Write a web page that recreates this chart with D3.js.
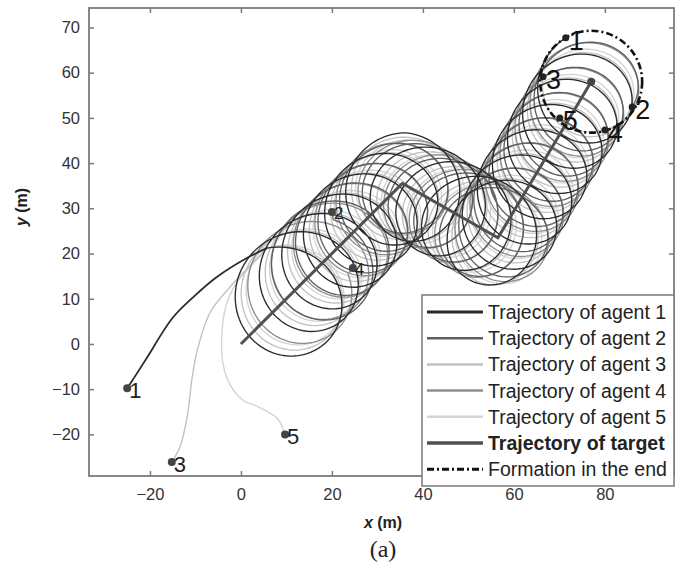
<!DOCTYPE html>
<html>
<head>
<meta charset="utf-8">
<script src="https://cdn.jsdelivr.net/npm/d3@7"></script>
<style>
body{margin:0;background:#fff;}
svg text{font-family:"Liberation Sans",Arial,sans-serif;}
</style>
</head>
<body>
<svg id="chart" width="681" height="570"></svg>
<script>
// target path corners (m)
var targetPts = [[0,0],[35.5,35.5],[56.5,23.5],[77,58]];
// agents: start points, end points (formation), approach curves
var agentStart = [[-25,-9.8],[20,29.2],[-15.2,-26.1],[24.6,16.8],[9.7,-20]];
var agentEnd = [[71.4,67.7],[86,52.4],[66.4,59.1],[80,47.3],[70.1,50]];
var approach = [
	[[-25,-9.8],[-23.5,-7.5],[-20.7,-3.1],[-15,5.8],[-10,10.8],[-5.3,14.8],[1.3,19],[5.7,21.2]],
	[[20,29.2],[20.3,27.5]],
	[[-15.2,-26.1],[-13.4,-22.8],[-11.8,-16],[-10.8,-8],[-9.7,-1.8],[-6.8,6.9],[-2.4,12.6],[2.6,17.9],[5.7,21.2]],
	[[24.6,16.8],[23.5,15.5]],
	[[9.7,-20],[8,-16.5],[4,-14],[0.4,-12.4],[-2.4,-9],[-4,-4],[-4.2,2],[-3.4,8],[-1,13.5],[3.5,18.6],[5.7,21.2]]
];
var joinAt = [11,22,12,16,13];      // target travel (m) when the agent starts circling
var orbitRadius = 11.2;
var loopSpacing = 6.5;           // target travel per revolution
var agentColors = ["#2b2b2b","#606060","#c2c2c2","#8e8e8e","#d4d4d4"];
var legendLabels = ["Trajectory of agent 1","Trajectory of agent 2","Trajectory of agent 3",
	"Trajectory of agent 4","Trajectory of agent 5","Trajectory of target","Formation in the end"];
var xTicks = [-20,0,20,40,60,80];
var yTicks = [-20,-10,0,10,20,30,40,50,60,70];

var svg = d3.select("#chart");
var L = 89, R = 674, T = 8, B = 476;
var x = d3.scaleLinear().domain([-33.4,95.2]).range([L,R]);
var y = d3.scaleLinear().domain([-29.2,74.3]).range([B,T]);

svg.append("clipPath").attr("id","clip").append("rect")
	.attr("x",L).attr("y",T).attr("width",R-L).attr("height",B-T);

// target position after travelling s metres
var segLen = [], total = 0;
for(var i=1;i<targetPts.length;i++){
	var d = Math.hypot(targetPts[i][0]-targetPts[i-1][0], targetPts[i][1]-targetPts[i-1][1]);
	segLen.push(d); total += d;
}
function targetAt(s){
	for(var i=0;i<segLen.length;i++){
		if(s <= segLen[i] || i == segLen.length-1){
			var f = s/segLen[i];
			return [targetPts[i][0]+f*(targetPts[i+1][0]-targetPts[i][0]),
				targetPts[i][1]+f*(targetPts[i+1][1]-targetPts[i][1])];
		}
		s -= segLen[i];
	}
}

function orbit(k){
	var s0 = joinAt[k];
	var a = approach[k][approach[k].length-1];
	var t0 = targetAt(s0);
	var rx = a[0]-t0[0], ry = a[1]-t0[1];
	var rho0 = Math.hypot(rx,ry), phi0 = Math.atan2(ry,rx);
	var tEnd = targetPts[targetPts.length-1];
	var ex = agentEnd[k][0]-tEnd[0], ey = agentEnd[k][1]-tEnd[1];
	var rhoE = Math.hypot(ex,ey), phiE = Math.atan2(ey,ex);
	var base = ((phi0-phiE)%(2*Math.PI)+2*Math.PI)%(2*Math.PI);
	var turns = Math.round(((total-s0)*2*Math.PI/loopSpacing - base)/(2*Math.PI));
	var w = (base + turns*2*Math.PI)/(total-s0);
	var pts = [];
	for(var s=s0; s<=total+1e-9; s+=0.08){
		var tp = targetAt(s);
		var rho = rhoE + (rho0-rhoE)*Math.exp(-(s-s0)/9);
		var phi = phi0 - w*(s-s0);
		pts.push([tp[0]+rho*Math.cos(phi), tp[1]+rho*Math.sin(phi)]);
	}
	pts.push(agentEnd[k]);
	return pts;
}

var line = d3.line().x(function(d){return x(d[0]);}).y(function(d){return y(d[1]);});
var smooth = d3.line().x(function(d){return x(d[0]);}).y(function(d){return y(d[1]);}).curve(d3.curveCatmullRom);

var plot = svg.append("g").attr("clip-path","url(#clip)");
var order = [4,2,3,1,0];
order.forEach(function(k){
	plot.append("path").attr("d",smooth(approach[k]))
		.attr("fill","none").attr("stroke",agentColors[k]).attr("stroke-width",k==0?1.8:1.4);
	plot.append("path").attr("d",line(orbit(k)))
		.attr("fill","none").attr("stroke",agentColors[k]).attr("stroke-width",1.35);
});

plot.append("path").attr("d",line(targetPts))
	.attr("fill","none").attr("stroke","#505050").attr("stroke-width",3);

var tEnd = targetPts[targetPts.length-1];
plot.append("circle").attr("cx",x(tEnd[0])).attr("cy",y(tEnd[1]))
	.attr("r",x(orbitRadius)-x(0))
	.attr("fill","none").attr("stroke","#111").attr("stroke-width",2.6)
	.attr("stroke-dasharray","7,3,2,3");

// dots and numbers
plot.append("circle").attr("cx",x(tEnd[0])).attr("cy",y(tEnd[1])).attr("r",4).attr("fill","#444");
agentStart.forEach(function(p,k){
	plot.append("circle").attr("cx",x(p[0])).attr("cy",y(p[1])).attr("r",4).attr("fill","#444");
	var big = (k==0||k==2||k==4);
	plot.append("text").attr("x",x(p[0])+2).attr("y",y(p[1])+(big?10:7))
		.attr("font-size",big?22:17).attr("fill","#222").text(k+1);
});
agentEnd.forEach(function(p,k){
	plot.append("circle").attr("cx",x(p[0])).attr("cy",y(p[1])).attr("r",3.5).attr("fill","#222");
	plot.append("text").attr("x",x(p[0])+3).attr("y",y(p[1])+12)
		.attr("font-size",27).attr("fill","#111").text(k+1);
});

// frame and ticks
var axisColor = "#7a7a7a";
function styleAxis(g){
	g.select(".domain").remove();
	g.selectAll("line").attr("stroke",axisColor).attr("stroke-width",1.5);
	g.selectAll("text").attr("fill","#333").attr("font-size",16.5).attr("font-family","Liberation Sans, Arial, sans-serif");
}
svg.append("g").attr("transform","translate(0,"+B+")")
	.call(d3.axisBottom(x).tickValues(xTicks).tickSizeInner(-5).tickSizeOuter(0).tickPadding(12)).call(styleAxis);
svg.append("g").attr("transform","translate(0,"+T+")")
	.call(d3.axisTop(x).tickValues(xTicks).tickSizeInner(-5).tickSizeOuter(0).tickFormat("")).call(styleAxis);
svg.append("g").attr("transform","translate("+L+",0)")
	.call(d3.axisLeft(y).tickValues(yTicks).tickSizeInner(-5).tickSizeOuter(0).tickPadding(9)).call(styleAxis);
svg.append("g").attr("transform","translate("+R+",0)")
	.call(d3.axisRight(y).tickValues(yTicks).tickSizeInner(-5).tickSizeOuter(0).tickFormat("")).call(styleAxis);
svg.append("rect").attr("x",L).attr("y",T).attr("width",R-L).attr("height",B-T)
	.attr("fill","none").attr("stroke",axisColor).attr("stroke-width",1.8);

// axis titles
var yl = svg.append("text").attr("transform","translate(27,207) rotate(-90)")
	.attr("text-anchor","middle").attr("font-size",16).attr("font-weight","bold").attr("fill","#222");
yl.append("tspan").attr("font-style","italic").text("y");
yl.append("tspan").text(" (m)");
var xl = svg.append("text").attr("x",383).attr("y",528)
	.attr("text-anchor","middle").attr("font-size",16).attr("font-weight","bold").attr("fill","#222");
xl.append("tspan").attr("font-style","italic").text("x");
xl.append("tspan").text(" (m)");
svg.append("text").attr("x",383).attr("y",557).attr("text-anchor","middle")
	.attr("font-size",24).attr("fill","#222").style("font-family","Liberation Serif, Times New Roman, serif").text("(a)");

// legend
var lg = svg.append("g");
lg.append("rect").attr("x",422).attr("y",295).attr("width",R-422).attr("height",191)
	.attr("fill","#fff").attr("stroke",axisColor).attr("stroke-width",1.5);
var lColors = agentColors.concat(["#505050","#111"]);
var lWidths = [3,2.5,2.5,2.5,2.5,3.5,3];
legendLabels.forEach(function(t,i){
	var cy = 312 + i*26.2;
	var ln = lg.append("line").attr("x1",427).attr("x2",483).attr("y1",cy).attr("y2",cy)
		.attr("stroke",lColors[i]).attr("stroke-width",lWidths[i]);
	if(i==6) ln.attr("stroke-dasharray","7,3,2,3");
	lg.append("text").attr("x",488).attr("y",cy+7).attr("font-size",19.5).attr("fill","#222")
		.attr("font-weight",i==5?"bold":"normal").text(t);
});
</script>
</body>
</html>
